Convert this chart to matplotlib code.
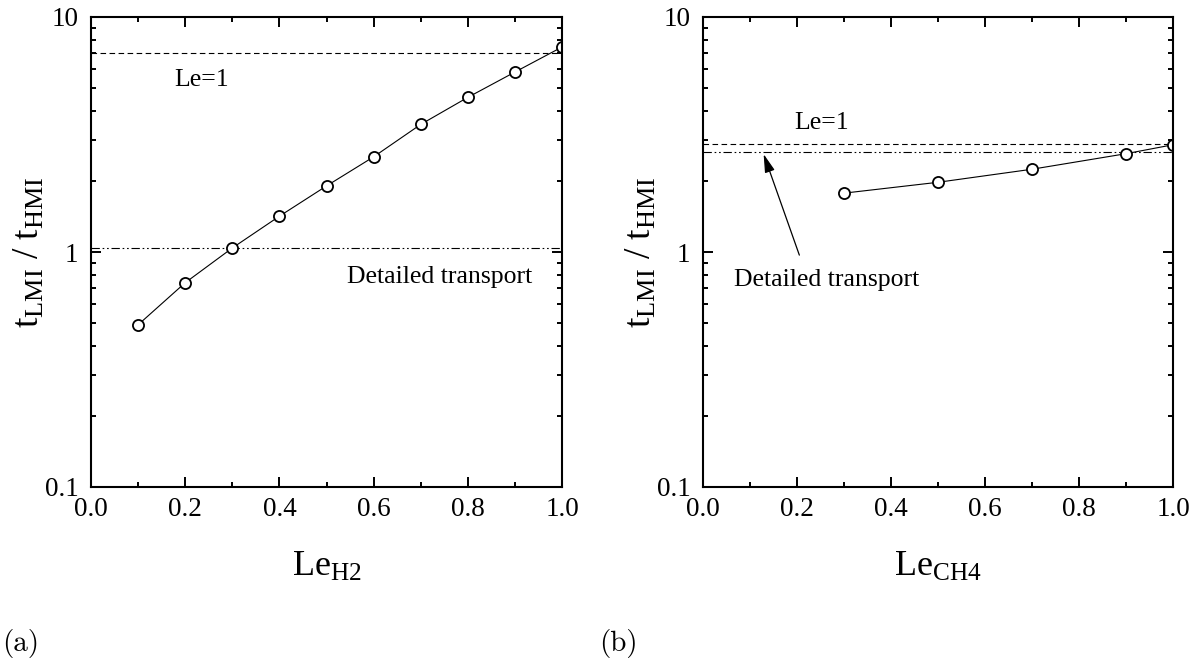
import matplotlib
matplotlib.use("Agg")
import matplotlib.pyplot as plt
from matplotlib.ticker import LogLocator, MultipleLocator, FixedFormatter, FixedLocator, NullFormatter

plt.rcParams['font.family'] = ['Liberation Serif', 'DejaVu Serif']
plt.rcParams['mathtext.fontset'] = 'custom'
plt.rcParams['mathtext.rm'] = 'Liberation Serif'
plt.rcParams['mathtext.it'] = 'Liberation Serif:italic'
plt.rcParams['lines.scale_dashes'] = False

# panel (a): H2 Lewis number
le_h2 = [0.1, 0.2, 0.3, 0.4, 0.5, 0.6, 0.7, 0.8, 0.9, 1.0]
ratio_h2 = [0.49, 0.74, 1.04, 1.42, 1.91, 2.54, 3.49, 4.55, 5.83, 7.45]
le1_h2 = 7.0
detailed_h2 = 1.04

# panel (b): CH4 Lewis number
le_ch4 = [0.3, 0.5, 0.7, 0.9, 1.0]
ratio_ch4 = [1.78, 1.98, 2.25, 2.62, 2.86]
le1_ch4 = 2.87
detailed_ch4 = 2.67

ytick_vals = [0.1, 1, 10]
ytick_labels = ['0.1', '1', '10']
xtick_vals = [0.0, 0.2, 0.4, 0.6, 0.8, 1.0]

fig = plt.figure(figsize=(12.02, 6.66), dpi=100)
ax_a = fig.add_axes([91/1202, 1-487/666, 471/1202, 470/666])
ax_b = fig.add_axes([703/1202, 1-487/666, 470/1202, 470/666])

dash = (0, (4, 2.5))
dashdotdot = (0, (6, 2, 1.2, 2, 1.2, 2))


def style(ax, sub):
    ax.set_yscale('log')
    ax.set_xlim(0, 1)
    ax.set_ylim(0.1, 10)
    ax.yaxis.set_major_locator(FixedLocator(ytick_vals))
    ax.yaxis.set_major_formatter(FixedFormatter(ytick_labels))
    ax.yaxis.set_minor_locator(LogLocator(base=10, subs=range(2, 10)))
    ax.yaxis.set_minor_formatter(NullFormatter())
    ax.set_xticks(xtick_vals)
    ax.set_xticklabels(['%.1f' % v for v in xtick_vals])
    ax.xaxis.set_minor_locator(MultipleLocator(0.1))
    ax.tick_params(which='both', direction='in', top=True, right=True,
                   labelsize=19.5, width=1.4)
    ax.tick_params(which='major', length=7.5)
    ax.tick_params(which='minor', length=3.8)
    ax.tick_params(axis='x', pad=7)
    ax.tick_params(axis='y', pad=9)
    for s in ax.spines.values():
        s.set_linewidth(1.5)
    ax.set_ylabel(r'$\mathrm{t_{LMI}}$ / $\mathrm{t_{HMI}}$', fontsize=27)
    ax.yaxis.set_label_coords(-0.095, 0.5)
    ax.set_xlabel(r'$\mathrm{Le_{%s}}$' % sub, fontsize=26)
    ax.xaxis.set_label_coords(0.5, -0.135)


style(ax_a, 'H2')
ax_a.axhline(le1_h2, color='black', lw=0.8, linestyle=dash)
ax_a.axhline(detailed_h2, color='black', lw=0.8, linestyle=dashdotdot)
ax_a.plot(le_h2, ratio_h2, color='black', lw=0.8, marker='o', ms=8,
          mfc='white', mec='black', mew=1.3)
ax_a.text(0.177, 5.4, 'Le=1', fontsize=18.5, va='center', ha='left')
ax_a.text(0.543, 0.785, 'Detailed transport', fontsize=18.5, va='center', ha='left')

style(ax_b, 'CH4')
ax_b.axhline(le1_ch4, color='black', lw=0.8, linestyle=dash)
ax_b.axhline(detailed_ch4, color='black', lw=0.8, linestyle=dashdotdot)
ax_b.plot(le_ch4, ratio_ch4, color='black', lw=0.8, marker='o', ms=8,
          mfc='white', mec='black', mew=1.3)
ax_b.text(0.194, 3.53, 'Le=1', fontsize=18.5, va='center', ha='left')
ax_b.text(0.066, 0.76, 'Detailed transport', fontsize=18.5, va='center', ha='left')
ax_b.annotate('', xy=(0.129, 2.61), xytext=(0.205, 0.97),
              arrowprops=dict(arrowstyle='-|>,head_length=0.8,head_width=0.22',
                              color='black', lw=0.9,
                              mutation_scale=14, shrinkA=0, shrinkB=0))

fig.text(0.002, 1-643/666, '(a)', fontsize=21, family='cmr10', va='center', ha='left')
fig.text(599/1202, 1-643/666, '(b)', fontsize=21, family='cmr10', va='center', ha='left')

fig.savefig('out.png', dpi=100)
